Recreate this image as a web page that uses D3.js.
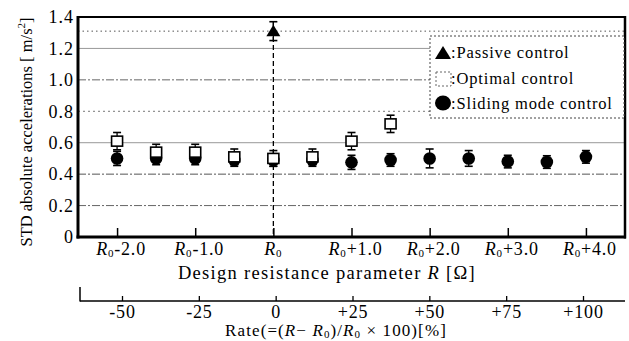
<!DOCTYPE html>
<html><head><meta charset="utf-8">
<script src="https://cdn.jsdelivr.net/npm/d3@7"></script>
<style>html,body{margin:0;padding:0;background:#fff}svg{display:block}
svg text{font-family:"Liberation Serif","DejaVu Serif",serif}</style>
</head><body>
<svg id="c" width="629" height="341"></svg>
<script>
// ---- data ----
const xTicks = [-2, -1, 0, 1, 2, 3, 4];
const xTickSuffix = ["-2.0", "-1.0", "", "+1.0", "+2.0", "+3.0", "+4.0"];
const yTicks = [0, 0.2, 0.4, 0.6, 0.8, 1.0, 1.2, 1.4];
const rateTicks = [-50, -25, 0, 25, 50, 75, 100];
const rateLabels = ["-50", "-25", "0", "+25", "+50", "+75", "+100"];

const passiveR = [0];
const passiveVal = [1.31];
const passiveErr = [0.06];

const optimalR = [-2, -1.5, -1, -0.5, 0, 0.5, 1, 1.5];
const optimalVal = [0.61, 0.54, 0.54, 0.51, 0.50, 0.51, 0.61, 0.72];
const optimalErr = [0.055, 0.05, 0.05, 0.05, 0.05, 0.05, 0.055, 0.055];

const slidingR = [-2, -1.5, -1, -0.5, 0, 0.5, 1, 1.5, 2, 2.5, 3, 3.5, 4];
const slidingVal = [0.50, 0.50, 0.50, 0.49, 0.49, 0.49, 0.475, 0.49, 0.50, 0.50, 0.48, 0.477, 0.51];
const slidingErr = [0.045, 0.04, 0.04, 0.04, 0.04, 0.04, 0.045, 0.04, 0.06, 0.05, 0.04, 0.04, 0.04];

const passiveLevel = 1.31;

// ---- layout ----
const svg = d3.select("#c");
const L = 78, R = 625, T = 17, B = 237;
const x = d3.scaleLinear().domain([-2.5, 4.5]).range([L, R]);
const y = d3.scaleLinear().domain([0, 1.4]).range([B, T]);
const xRate = d3.scaleLinear().domain([-50, 100]).range([122, 583]);

// gridlines
const gridStyle = {0.2: "8,2,2,2", 0.4: "8,2,2,2", 0.6: null, 0.8: "2,3", 1.0: "8,2,2,2", 1.2: null};
const gridColor = {0.2: "#666", 0.4: "#555", 0.6: "#999", 0.8: "#777", 1.0: "#666", 1.2: "#999"};
svg.append("g").selectAll("line").data(yTicks.filter(v => v > 0 && v < 1.4)).join("line")
  .attr("x1", L).attr("x2", R).attr("y1", d => y(d)).attr("y2", d => y(d))
  .attr("stroke", d => gridColor[d.toFixed(1)*1] || "#888")
  .attr("stroke-width", 1)
  .attr("stroke-dasharray", d => gridStyle[d.toFixed(1)*1]);

svg.append("line").attr("x1", L).attr("x2", R).attr("y1", y(passiveLevel)).attr("y2", y(passiveLevel))
  .attr("stroke", "#555").attr("stroke-width", 1).attr("stroke-dasharray", "1.5,3");

svg.append("line").attr("x1", x(0)).attr("x2", x(0)).attr("y1", T + 4).attr("y2", B)
  .attr("stroke", "#000").attr("stroke-width", 1.3).attr("stroke-dasharray", "5,3");

// x axis
const xAxis = d3.axisBottom(x).tickValues(xTicks).tickSize(-9).tickFormat("");
const gx = svg.append("g").attr("transform", `translate(0,${B})`).call(xAxis);
gx.select(".domain").remove();
gx.selectAll(".tick line").attr("stroke", "#000").attr("stroke-width", 1.5);

const xl = svg.append("g").attr("font-size", 18).attr("letter-spacing", 0.8).attr("fill", "#000");
xTicks.forEach((v, i) => {
  const t = xl.append("text").attr("x", x(v) + (i === 2 ? 0 : 4)).attr("y", 255).attr("text-anchor", "middle");
  t.append("tspan").attr("font-style", "italic").text("R");
  t.append("tspan").attr("font-size", 11).attr("dy", 2).text("0");
  if (xTickSuffix[i]) t.append("tspan").attr("dy", -2).text(xTickSuffix[i]);
});

// y axis
const yAxis = d3.axisLeft(y).tickValues(yTicks).tickSize(0).tickPadding(4)
  .tickFormat(d => d === 0 ? "0" : d3.format(".1f")(d));
const gy = svg.append("g").attr("transform", `translate(${L},0)`).call(yAxis);
gy.select(".domain").remove();
gy.selectAll("text").attr("font-family", null).attr("font-size", 18).attr("letter-spacing", 1).attr("fill", "#000");

// frame
svg.append("line").attr("x1", L).attr("x2", R).attr("y1", T).attr("y2", T).attr("stroke", "#000").attr("stroke-width", 2);
svg.append("line").attr("x1", R).attr("x2", R).attr("y1", T - 1).attr("y2", B + 1.5).attr("stroke", "#000").attr("stroke-width", 2.5);
svg.append("line").attr("x1", L).attr("x2", L).attr("y1", T - 1).attr("y2", B + 1.5).attr("stroke", "#000").attr("stroke-width", 3);
svg.append("line").attr("x1", L - 1.5).attr("x2", R + 1).attr("y1", B).attr("y2", B).attr("stroke", "#000").attr("stroke-width", 3);

function errBars(g, rs, vals, errs) {
  rs.forEach((r, i) => {
    const cx = x(r), y1 = y(vals[i] + errs[i]), y2 = y(vals[i] - errs[i]);
    g.append("line").attr("x1", cx).attr("x2", cx).attr("y1", y1).attr("y2", y2).attr("stroke", "#000").attr("stroke-width", 1.3);
    [y1, y2].forEach(yy => g.append("line").attr("x1", cx - 4).attr("x2", cx + 4).attr("y1", yy).attr("y2", yy).attr("stroke", "#000").attr("stroke-width", 1.6));
  });
}
const marks = svg.append("g");
errBars(marks, slidingR, slidingVal, slidingErr);
marks.selectAll("circle.s").data(slidingR).join("circle").attr("class", "s")
  .attr("cx", d => x(d)).attr("cy", (d, i) => y(slidingVal[i])).attr("r", 6.3).attr("fill", "#000");
const og = svg.append("g");
errBars(og, optimalR, optimalVal, optimalErr);
og.selectAll("rect").data(optimalR).join("rect")
  .attr("x", d => x(d) - 5.5).attr("y", (d, i) => y(optimalVal[i]) - 5).attr("width", 11).attr("height", 10)
  .attr("fill", "#fff").attr("stroke", "#000").attr("stroke-width", 1.6);
const pg = svg.append("g");
errBars(pg, passiveR, passiveVal, passiveErr);
pg.selectAll("path").data(passiveR).join("path")
  .attr("transform", (d, i) => `translate(${x(d)},${y(passiveVal[i])})`)
  .attr("d", "M0,-6.5L7,5L-7,5Z").attr("fill", "#000");

// legend
const lg = svg.append("g");
lg.append("rect").attr("x", 430).attr("y", 36).attr("width", 194).attr("height", 82)
  .attr("fill", "#fff").attr("stroke", "#444").attr("stroke-width", 1).attr("stroke-dasharray", "2,2");
lg.append("path").attr("transform", "translate(443,53)").attr("d", "M0,-7L8,6L-8,6Z").attr("fill", "#000");
lg.append("rect").attr("x", 436).attr("y", 72).attr("width", 15).attr("height", 14)
  .attr("fill", "#fff").attr("stroke", "#666").attr("stroke-width", 1).attr("stroke-dasharray", "2,2");
lg.append("ellipse").attr("cx", 443).attr("cy", 103).attr("rx", 8).attr("ry", 7.5).attr("fill", "#000");
const legendText = [":Passive control", ":Optimal control", ":Sliding mode control"];
const legendY = [58, 84, 109];
lg.selectAll("text").data(legendText).join("text")
  .attr("x", 451).attr("y", (d, i) => legendY[i]).attr("font-size", 16.5).attr("letter-spacing", 0.85).attr("fill", "#000")
  .text(d => d);

// axis title
const t1 = svg.append("text").attr("x", 327).attr("y", 279).attr("text-anchor", "middle")
  .attr("font-size", 18.5).attr("letter-spacing", 1.3).attr("fill", "#000");
t1.append("tspan").text("Design resistance parameter ");
t1.append("tspan").attr("font-style", "italic").text("R");
t1.append("tspan").text(" [Ω]");

// y title
const yt = svg.append("text").attr("transform", "translate(32,132) rotate(-90)").attr("text-anchor", "middle")
  .attr("font-size", 16.5).attr("fill", "#000");
yt.append("tspan").text("STD  absolute accelerations [ m/s");
yt.append("tspan").attr("font-size", 11).attr("dy", -7).text("2");
yt.append("tspan").attr("dy", 7).text("]");

// rate axis
const rAxis = d3.axisBottom(xRate).tickValues(rateTicks).tickSize(-5).tickFormat((d, i) => rateLabels[i]).tickPadding(4);
const gr = svg.append("g").attr("transform", "translate(0,301)").call(rAxis);
gr.select(".domain").remove();
gr.selectAll(".tick line").attr("stroke", "#000").attr("stroke-width", 1.3);
gr.selectAll("text").attr("font-family", null).attr("font-size", 18).attr("letter-spacing", 0.8).attr("fill", "#000");
svg.append("line").attr("x1", 80).attr("x2", R).attr("y1", 301).attr("y2", 301).attr("stroke", "#000").attr("stroke-width", 1.3);
svg.append("line").attr("x1", 80).attr("x2", 80).attr("y1", 287).attr("y2", 301.5).attr("stroke", "#000").attr("stroke-width", 1.5);

const t2 = svg.append("text").attr("x", 336).attr("y", 336).attr("text-anchor", "middle")
  .attr("font-size", 17).attr("letter-spacing", 1.1).attr("fill", "#000");
t2.append("tspan").text("Rate(=(");
t2.append("tspan").attr("font-style", "italic").text("R");
t2.append("tspan").text("− ");
t2.append("tspan").attr("font-style", "italic").text("R");
t2.append("tspan").attr("font-size", 11).attr("dy", 2).text("0");
t2.append("tspan").attr("dy", -2).text(")/");
t2.append("tspan").attr("font-style", "italic").text("R");
t2.append("tspan").attr("font-size", 11).attr("dy", 2).text("0");
t2.append("tspan").attr("dy", -2).text(" × 100)[%]");
</script>
</body></html>
